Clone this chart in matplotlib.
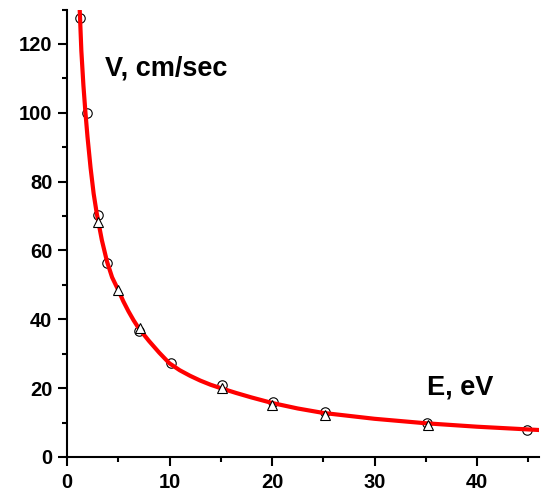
import numpy as np
import matplotlib
matplotlib.use("Agg")
import matplotlib.pyplot as plt
from matplotlib.ticker import MultipleLocator

plt.rcParams['font.family'] = ['Liberation Sans', 'DejaVu Sans']
plt.rcParams['font.weight'] = 'bold'

# measured points (circles and triangles)
e_circ = [1.27, 1.98, 3.0, 3.9, 7.0, 10.15, 15.1, 20.1, 25.2, 35.1, 44.9]
v_circ = [127.5, 100, 70.3, 56.4, 36.6, 27.2, 20.9, 16.1, 13.0, 9.8, 7.9]
e_tri = [3.0, 5.0, 7.1, 15.1, 20.0, 25.2, 35.2]
v_tri = [68.3, 48.5, 37.6, 19.9, 15.1, 12.3, 9.2]

# red fit curve
e_fit = [1.24, 1.4, 1.6, 1.8, 2.0, 2.3, 2.6, 2.9, 3.4, 3.9, 4.4, 5.0, 5.5, 6.0, 6.5, 7.0, 8.0,
         9.0, 10.0, 11.0, 12.0, 13.0, 14.0, 15.0, 16.5, 18.0, 20.0, 22.5, 25.0, 30.0, 35.0, 40.0, 46.0]
v_fit = [130, 118, 108, 100, 93, 84, 76.5, 70.8, 63, 56.8, 52.2, 48.5, 45.2, 42.3, 39.7, 37.4, 33.7,
         30.3, 27.2, 25.2, 23.6, 22.2, 21.0, 20.0, 18.6, 17.3, 15.7, 14.1, 12.8, 11.1, 9.8, 8.8, 7.85]

fig = plt.figure(figsize=(5.49, 4.96), dpi=100)
ax = fig.add_axes([67/549, 39/496, (538.5-67)/549, (457-9.5)/496])

ax.plot(e_circ, v_circ, 'o', ms=6.8, mfc='white', mec='black', mew=0.8, zorder=2)
ax.plot(e_fit, v_fit, '-', color='red', lw=3, zorder=3)
ax.plot(e_tri, v_tri, '^', ms=6.8, mfc='white', mec='black', mew=0.8, zorder=4)

ax.set_xlim(0, 46)
ax.set_ylim(0, 130)
ax.xaxis.set_major_locator(MultipleLocator(10))
ax.xaxis.set_minor_locator(MultipleLocator(5))
ax.yaxis.set_major_locator(MultipleLocator(20))
ax.yaxis.set_minor_locator(MultipleLocator(10))

for s in ['top', 'right']:
    ax.spines[s].set_visible(False)
for s in ['left', 'bottom']:
    ax.spines[s].set_linewidth(1.5)

ax.tick_params(which='major', direction='out', length=6.5, width=1.5, labelsize=14.5)
ax.tick_params(which='minor', direction='out', length=3.5, width=1.5)
ax.tick_params(axis='x', which='major', pad=5)
ax.tick_params(axis='y', which='major', pad=4)

ax.text(3.7, 110.8, 'V, cm/sec', fontsize=19.5, fontweight='bold')
ax.text(35.1, 18.2, 'E, eV', fontsize=19.5, fontweight='bold')

fig.savefig('out.png', dpi=100)
